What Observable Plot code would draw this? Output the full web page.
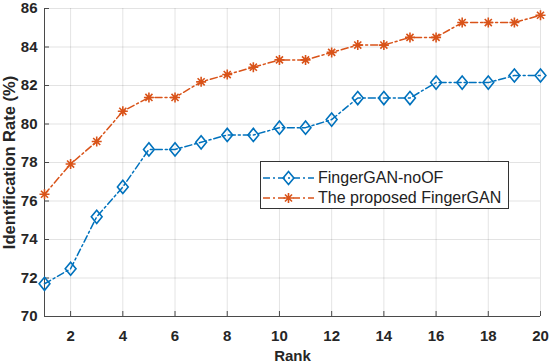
<!DOCTYPE html>
<html>
<head>
<meta charset="utf-8">
<script src="https://cdn.jsdelivr.net/npm/d3@7"></script>
<script src="https://cdn.jsdelivr.net/npm/@observablehq/plot@0.6"></script>
<style>
  body { margin: 0; background: #fff; }
  #wrap { position: relative; width: 550px; height: 363px; font-family: 'Liberation Sans', Arial, sans-serif; }
  #legend { position: absolute; left: 260px; top: 161px; width: 247px; height: 46px; border: 1px solid #333; background: #fff; }
  #legend svg { position: absolute; left: 0; top: 0; }
  #legend .lab { position: absolute; left: 57px; font-size: 16px; color: #222; line-height: 20px; white-space: nowrap; }
</style>
</head>
<body>
<div id="wrap"></div>
<script>
const ranks = [1,2,3,4,5,6,7,8,9,10,11,12,13,14,15,16,17,18,19,20];
const noOF = [71.70, 72.48, 75.18, 76.73, 78.68, 78.68, 79.05, 79.43, 79.43, 79.81, 79.81, 80.23, 81.35, 81.35, 81.35, 82.15, 82.15, 82.15, 82.52, 82.52];
const proposed = [76.35, 77.92, 79.09, 80.66, 81.38, 81.38, 82.19, 82.57, 82.95, 83.33, 83.33, 83.72, 84.10, 84.10, 84.50, 84.50, 85.27, 85.27, 85.27, 85.65];
const seriesNames = ["FingerGAN-noOF", "The proposed FingerGAN"];
const colors = ["#0072BD", "#D95319"];
const xTicks = [2,4,6,8,10,12,14,16,18,20];
const yTicks = [70,72,74,76,78,80,82,84,86];

const dataA = ranks.map((r, i) => ({rank: r, value: noOF[i]}));
const dataB = ranks.map((r, i) => ({rank: r, value: proposed[i]}));

const diamond = {
  draw(ctx, size) {
    const r = Math.sqrt(size / Math.PI);
    ctx.moveTo(0, -r * 1.1);
    ctx.lineTo(r * 0.9, 0);
    ctx.lineTo(0, r * 1.1);
    ctx.lineTo(-r * 0.9, 0);
    ctx.closePath();
  }
};
const asterisk = {
  draw(ctx, size) {
    const r = Math.sqrt(size / Math.PI);
    for (let k = 0; k < 4; k++) {
      const a = k * Math.PI / 4;
      ctx.moveTo(-r * Math.cos(a), -r * Math.sin(a));
      ctx.lineTo(r * Math.cos(a), r * Math.sin(a));
    }
  }
};
const dash = "7,3,2,3";

const chart = Plot.plot({
  width: 550,
  height: 363,
  marginLeft: 44,
  marginRight: 10,
  marginTop: 8,
  marginBottom: 47,
  style: {fontFamily: "'Liberation Sans', Arial, sans-serif", fontSize: "15px", fontWeight: "bold", color: "#262626", background: "#fff", overflow: "visible"},
  x: {domain: [1, 20]},
  y: {domain: [70, 86]},
  marks: [
    Plot.gridX(xTicks, {stroke: "#000", strokeOpacity: 0.11}),
    Plot.gridY(yTicks, {stroke: "#000", strokeOpacity: 0.11}),
    Plot.ruleX([1], {stroke: "#4a4a4a"}),
    Plot.ruleY([70], {stroke: "#4a4a4a"}),
    Plot.axisX(xTicks, {tickSize: -5, tickPadding: 19, stroke: "#4a4a4a", label: "Rank", labelAnchor: "center", labelArrow: "none", labelOffset: 44}),
    Plot.axisY(yTicks, {tickSize: -5, tickPadding: 12, stroke: "#4a4a4a", label: null}),
    Plot.axisY({ticks: [], label: "Identification Rate (%)", labelAnchor: "center", labelArrow: "none", fontSize: 16.5}),
    Plot.line(dataA, {x: "rank", y: "value", stroke: colors[0], strokeWidth: 1.5, strokeDasharray: dash}),
    Plot.line(dataB, {x: "rank", y: "value", stroke: colors[1], strokeWidth: 1.5, strokeDasharray: dash}),
    Plot.dot(dataA, {x: "rank", y: "value", symbol: diamond, r: 6, stroke: colors[0], strokeWidth: 1.6, fill: "none"}),
    Plot.dot(dataB, {x: "rank", y: "value", symbol: asterisk, r: 5, stroke: colors[1], strokeWidth: 1.6, fill: "none"})
  ]
});

const wrap = document.getElementById("wrap");
wrap.appendChild(chart);

// Legend
const leg = document.createElement("div");
leg.id = "legend";
const rowsY = [16, 36];
let svg = `<svg width="60" height="46" xmlns="http://www.w3.org/2000/svg">`;
rowsY.forEach((y, i) => {
  svg += `<line x1="2" x2="53" y1="${y}" y2="${y}" stroke="${colors[i]}" stroke-width="1.5" stroke-dasharray="${dash}"/>`;
  const cx = 27.5;
  if (i === 0) {
    svg += `<path d="M${cx},${y-6.6}L${cx+5.4},${y}L${cx},${y+6.6}L${cx-5.4},${y}Z" fill="#fff" fill-opacity="0" stroke="${colors[i]}" stroke-width="1.6"/>`;
  } else {
    let d = "";
    for (let k = 0; k < 4; k++) {
      const a = k * Math.PI / 4, r = 5;
      d += `M${cx - r*Math.cos(a)},${y - r*Math.sin(a)}L${cx + r*Math.cos(a)},${y + r*Math.sin(a)}`;
    }
    svg += `<path d="${d}" stroke="${colors[i]}" stroke-width="1.6"/>`;
  }
});
svg += `</svg>`;
leg.innerHTML = svg + seriesNames.map((n, i) => `<div class="lab" style="top:${rowsY[i] - 10}px">${n}</div>`).join("");
wrap.appendChild(leg);
</script>
</body>
</html>
